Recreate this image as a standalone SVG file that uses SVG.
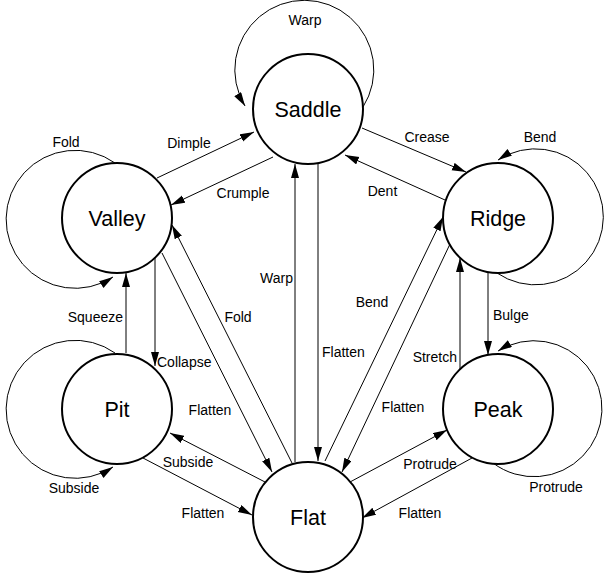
<svg xmlns="http://www.w3.org/2000/svg" width="605" height="575" viewBox="0 0 605 575">
<style>
.node circle{fill:#fff;stroke:#000;stroke-width:2}
.node text{font-family:"Liberation Sans",Arial,sans-serif;font-size:21.5px;text-anchor:middle;fill:#000}
.edge{fill:none;stroke:#000;stroke-width:1;marker-end:url(#arr)}
.lbl{font-family:"Liberation Sans",Arial,sans-serif;font-size:14px;text-anchor:middle;fill:#000}
.s{text-anchor:start}
.e{text-anchor:end}
</style>
<defs>
<marker id="arr" markerUnits="userSpaceOnUse" markerWidth="15" markerHeight="9" refX="14" refY="4" orient="auto">
<path d="M0,0 L14,4 L0,8 z" fill="#000"/>
</marker>
</defs>
<rect width="605" height="575" fill="#fff"/>
<g id="connectors">
<path class="edge" d="M363,107 A69.5,69.5 0 1 0 245,106"/>
<path class="edge" d="M115,163 A69,69 0 1 0 113,277"/>
<path class="edge" d="M115,353 A69,69 0 1 0 113,467"/>
<path class="edge" d="M497,273 A68,68 0 1 0 498,160"/>
<path class="edge" d="M493,463 A68,68 0 1 0 498,351"/>
<path class="edge" d="M157,178 L254,132"/>
<path class="edge" d="M273,157 L171,205"/>
<path class="edge" d="M362,128 L466,172"/>
<path class="edge" d="M445,200 L345,155"/>
<path class="edge" d="M155,258 L155,366"/>
<path class="edge" d="M126,353 L126,273"/>
<path class="edge" d="M143,458 L252,515"/>
<path class="edge" d="M265,482 L170,433"/>
<path class="edge" d="M162,253 L272,472"/>
<path class="edge" d="M292,463 L172,225"/>
<path class="edge" d="M318,164 L318,461"/>
<path class="edge" d="M295,462 L295,164"/>
<path class="edge" d="M325,461 L443,217"/>
<path class="edge" d="M450,244 L342,472"/>
<path class="edge" d="M460,369 L460,258"/>
<path class="edge" d="M488,272 L488,355"/>
<path class="edge" d="M350,482 L447,430"/>
<path class="edge" d="M472,458 L362,518"/>
<text class="lbl" x="305" y="25">Warp</text>
<text class="lbl" x="66" y="147">Fold</text>
<text class="lbl" x="540" y="142">Bend</text>
<text class="lbl" x="74" y="493">Subside</text>
<text class="lbl" x="556" y="492">Protrude</text>
<text class="lbl" x="189" y="147.5">Dimple</text>
<text class="lbl" x="243" y="198">Crumple</text>
<text class="lbl" x="427" y="142">Crease</text>
<text class="lbl" x="382.5" y="196">Dent</text>
<text class="lbl s" x="157" y="367">Collapse</text>
<text class="lbl e" x="123" y="322">Squeeze</text>
<text class="lbl" x="203" y="518">Flatten</text>
<text class="lbl" x="188" y="467">Subside</text>
<text class="lbl" x="210" y="415">Flatten</text>
<text class="lbl" x="238" y="322">Fold</text>
<text class="lbl s" x="322" y="357">Flatten</text>
<text class="lbl e" x="293" y="283">Warp</text>
<text class="lbl" x="372" y="307">Bend</text>
<text class="lbl" x="403" y="412">Flatten</text>
<text class="lbl e" x="457" y="362">Stretch</text>
<text class="lbl s" x="493" y="320">Bulge</text>
<text class="lbl" x="430" y="469">Protrude</text>
<text class="lbl" x="420" y="518">Flatten</text>
</g>
<g id="saddle" class="node"><circle cx="308" cy="109" r="55"/><text x="308" y="116.5">Saddle</text></g>
<g id="valley" class="node"><circle cx="117" cy="218" r="55"/><text x="117" y="225.5">Valley</text></g>
<g id="ridge" class="node"><circle cx="498" cy="218" r="55"/><text x="498" y="225.5">Ridge</text></g>
<g id="pit" class="node"><circle cx="117" cy="409" r="55"/><text x="117" y="416.5">Pit</text></g>
<g id="peak" class="node"><circle cx="498" cy="409" r="55"/><text x="498" y="416.5">Peak</text></g>
<g id="flat" class="node"><circle cx="308" cy="517" r="55"/><text x="308" y="524.5">Flat</text></g>
</svg>
